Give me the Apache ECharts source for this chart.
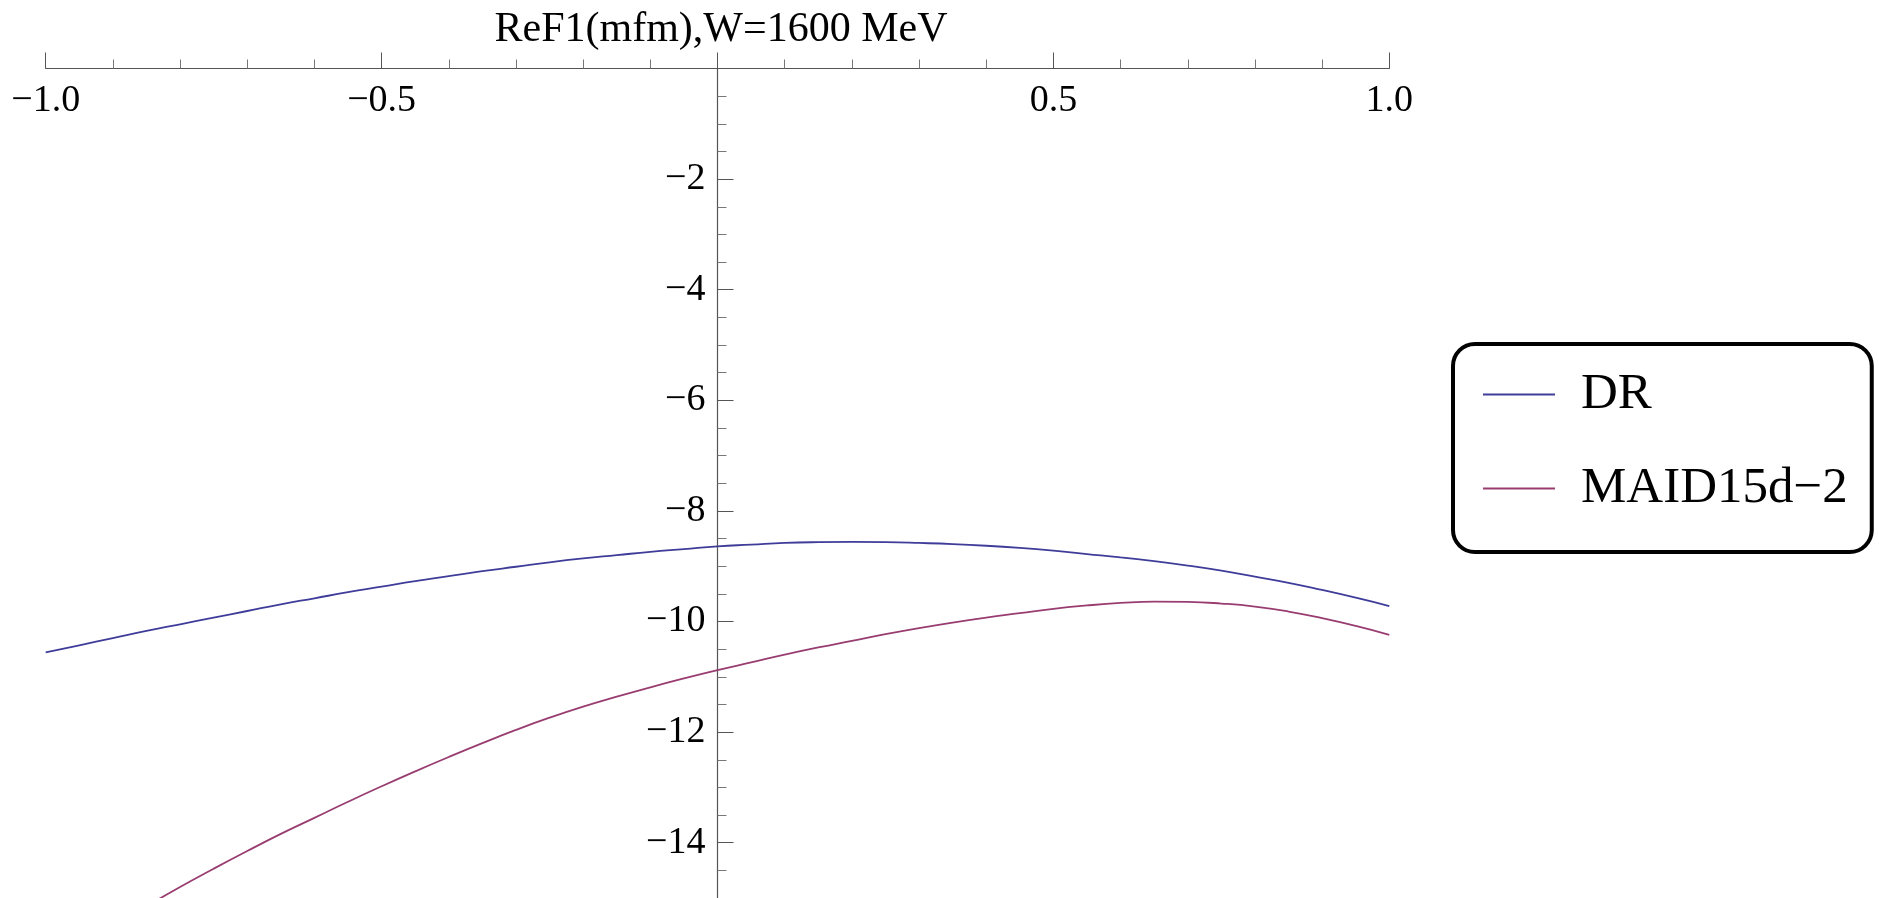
<!DOCTYPE html>
<html lang="en">
<head>
    <meta charset="UTF-8">
    <title>ReF1</title>
    <script src="https://cdn.jsdelivr.net/npm/echarts@6/dist/echarts.min.js"></script>
    <style>
        html, body {margin: 0; padding: 0; background: #fff;}
    </style>
</head>
<body>
<div id="main" style="width: 1879px;height: 898px;"></div>
<script type="text/javascript">
    // cos(theta), every 0.05
    var xs = [-1.0, -0.95, -0.9, -0.85, -0.8, -0.75, -0.7, -0.65, -0.6, -0.55, -0.5,
        -0.45, -0.4, -0.35, -0.3, -0.25, -0.2, -0.15, -0.1, -0.05, 0.0,
        0.05, 0.1, 0.15, 0.2, 0.25, 0.3, 0.35, 0.4, 0.45, 0.5,
        0.55, 0.6, 0.65, 0.7, 0.75, 0.8, 0.85, 0.9, 0.95, 1.0];
    var dr = [-10.56, -10.43, -10.30, -10.17, -10.05, -9.93, -9.81, -9.69, -9.58, -9.47, -9.37,
        -9.27, -9.18, -9.09, -9.01, -8.93, -8.86, -8.80, -8.74, -8.69, -8.64,
        -8.61, -8.58, -8.565, -8.56, -8.565, -8.58, -8.60, -8.63, -8.67, -8.72,
        -8.78, -8.84, -8.91, -8.99, -9.08, -9.19, -9.30, -9.43, -9.57, -9.72];
    var maid = [-16.2, -15.85, -15.5, -15.15, -14.8, -14.47, -14.15, -13.84, -13.55, -13.26, -12.98,
        -12.71, -12.45, -12.20, -11.96, -11.74, -11.54, -11.36, -11.19, -11.03, -10.88,
        -10.74, -10.60, -10.47, -10.35, -10.23, -10.12, -10.02, -9.93, -9.85, -9.77,
        -9.71, -9.665, -9.64, -9.645, -9.675, -9.73, -9.82, -9.94, -10.08, -10.24];
    var seriesNames = ['DR', 'MAID15d\u22122'];
    var seriesColors = ['#3f3d99', '#993d71'];

    var serif = "'Liberation Serif', 'DejaVu Serif', serif";

    function pairs(ys) {
        var out = [];
        for (var i = 0; i < xs.length; i++) {
            out.push([xs[i], ys[i]]);
        }
        return out;
    }

    function minus(s) {
        return s.replace('-', '\u2212');
    }

    var dom = document.getElementById("main");
    var myChart = echarts.init(dom);
    var option = {
        animation: false,
        title: {
            text: 'ReF1(mfm),W=1600 MeV',
            left: 716,
            top: 4,
            textAlign: 'center',
            textStyle: {fontFamily: serif, fontSize: 42, fontWeight: 'normal', color: '#000'}
        },
        legend: {
            orient: 'vertical',
            left: 1453,
            top: 344,
            padding: [25, 24, 38, 30],
            itemGap: 43,
            itemWidth: 72,
            itemHeight: 2,
            // plain stroke, same shape as the box so it fills it
            icon: 'path://M0,0 L36,0 L36,1 L0,1 Z',
            borderColor: '#000',
            borderWidth: 4,
            borderRadius: 22,
            backgroundColor: '#fff',
            textStyle: {fontFamily: serif, fontSize: 51, color: '#000', padding: [0, 0, 0, 21]},
            data: seriesNames
        },
        grid: {left: 45.7, top: 68.5, width: 1343.6, height: 884.8, outerBoundsMode: 'none'},
        xAxis: {
            type: 'value',
            position: 'top',
            min: -1,
            max: 1,
            interval: 0.5,
            axisLine: {onZero: false, lineStyle: {color: '#555', width: 1.2}},
            axisTick: {length: 16, lineStyle: {color: '#555'}},
            minorTick: {show: true, splitNumber: 5, length: 9, lineStyle: {color: '#777'}},
            splitLine: {show: false},
            axisLabel: {
                inside: true,
                margin: 14,
                fontFamily: serif,
                fontSize: 38,
                color: '#000',
                formatter: function (v) {
                    if (Math.abs(v) < 1e-9) return '';
                    return minus(v.toFixed(1));
                }
            }
        },
        yAxis: {
            type: 'value',
            min: -16,
            max: 0,
            interval: 2,
            // sits on x = 0
            offset: -671.8,
            axisLine: {onZero: false, lineStyle: {color: '#555', width: 1.2}},
            axisTick: {inside: true, length: 16, lineStyle: {color: '#555'}},
            minorTick: {show: true, splitNumber: 4, length: 9, lineStyle: {color: '#777'}},
            splitLine: {show: false},
            axisLabel: {
                margin: 12,
                fontFamily: serif,
                fontSize: 38,
                color: '#000',
                formatter: function (v) {
                    if (v === 0 || v === -16) return '';
                    return minus(String(v));
                }
            }
        },
        series: [{
            name: seriesNames[0],
            type: 'line',
            smooth: true,
            symbol: 'none',
            color: seriesColors[0],
            lineStyle: {width: 1.8},
            data: pairs(dr)
        }, {
            name: seriesNames[1],
            type: 'line',
            smooth: true,
            symbol: 'none',
            color: seriesColors[1],
            lineStyle: {width: 1.8},
            data: pairs(maid)
        }]
    };
    myChart.setOption(option);
</script>
</body>
</html>
